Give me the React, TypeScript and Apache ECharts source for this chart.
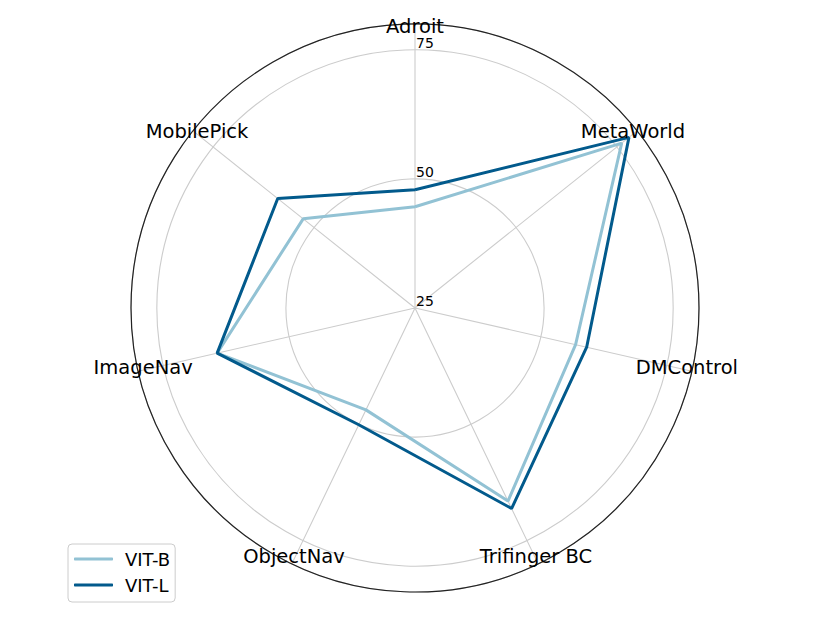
import React, { useEffect, useRef } from "react";
import * as echarts from "echarts";

const categories = ["Adroit", "MetaWorld", "DMControl", "Trifinger BC", "ObjectNav", "ImageNav", "MobilePick"];
const vitB = [44.6, 76.2, 56.9, 66.5, 46.9, 64.3, 52.7];
const vitL = [47.9, 78.0, 59.1, 68.1, 50.1, 64.3, 59.0];
const rTicks = [25, 50, 75];
const seriesNames = ["VIT-B", "VIT-L"];

const R_MIN = 25;
const R_MAX = 80;
const FONT = "DejaVu Sans";

function toPolar(vals: number[]) {
  const step = 360 / vals.length;
  const pts = vals.map((v, i) => [v, i * step]);
  pts.push([vals[0], 360]);
  return pts;
}

export default function App() {
  const ref = useRef<HTMLDivElement>(null);
  useEffect(() => {
    if (!ref.current) return;
    const chart = echarts.init(ref.current, null, { renderer: "svg" });
    const step = 360 / categories.length;
    chart.setOption({
      animation: false,
      backgroundColor: "#ffffff",
      polar: { center: [415, 308], radius: 284 },
      angleAxis: {
        type: "value",
        min: 0,
        max: 360,
        interval: step,
        startAngle: 90,
        clockwise: true,
        axisLine: { show: true, lineStyle: { color: "#222222", width: 1.2 } },
        axisTick: { show: false },
        axisLabel: { show: false },
        splitLine: { show: true, lineStyle: { color: "#cccccc", width: 1.1 } },
        z: 3,
      },
      radiusAxis: {
        type: "value",
        min: R_MIN,
        max: R_MAX,
        interval: 25,
        axisLine: { show: false },
        axisTick: { show: false },
        axisLabel: { show: false },
        splitLine: { show: true, lineStyle: { color: "#cccccc", width: 1.1 } },
      },
      legend: {
        orient: "vertical",
        left: 68,
        top: 544,
        padding: [5, 5, 7, 6],
        itemGap: 6,
        itemWidth: 39,
        itemHeight: 3,
        icon: "roundRect",
        borderColor: "#cccccc",
        borderWidth: 1,
        borderRadius: 4,
        backgroundColor: "rgba(255,255,255,0.8)",
        textStyle: {
          fontFamily: FONT,
          fontSize: 18,
          color: "#000",
          lineHeight: 20,
          padding: [0, 0, 0, 7],
        },
        data: seriesNames,
      },
      series: [
        {
          name: seriesNames[0],
          type: "line",
          coordinateSystem: "polar",
          symbol: "none",
          data: toPolar(vitB),
          lineStyle: { color: "#92c2d4", width: 3 },
          itemStyle: { color: "#92c2d4" },
          z: 4,
        },
        {
          name: seriesNames[1],
          type: "line",
          coordinateSystem: "polar",
          symbol: "none",
          data: toPolar(vitL),
          lineStyle: { color: "#025a8c", width: 3 },
          itemStyle: { color: "#025a8c" },
          z: 5,
        },
      ],
    });

    const graphics: any[] = [];
    categories.forEach((c, i) => {
      const p = chart.convertToPixel({ polarIndex: 0 } as any, [79, i * step]) as number[];
      graphics.push({
        type: "text",
        x: p[0],
        y: p[1] - 2.5,
        z: 10,
        style: {
          text: c,
          fontFamily: FONT,
          fontSize: 19.5,
          fill: "#000000",
          align: "center",
          verticalAlign: "middle",
        },
      });
    });
    rTicks.forEach((t) => {
      const p = chart.convertToPixel({ polarIndex: 0 } as any, [t, 0]) as number[];
      graphics.push({
        type: "text",
        x: p[0] + 1,
        y: p[1],
        z: 10,
        style: {
          text: String(t),
          fontFamily: FONT,
          fontSize: 14,
          fill: "#000000",
          align: "left",
          verticalAlign: "bottom",
        },
      });
    });
    chart.setOption({ graphic: graphics });

    return () => chart.dispose();
  }, []);
  return (
    <div
      ref={ref}
      style={{ position: "fixed", left: 0, top: 0, width: 830, height: 623 }}
    />
  );
}
